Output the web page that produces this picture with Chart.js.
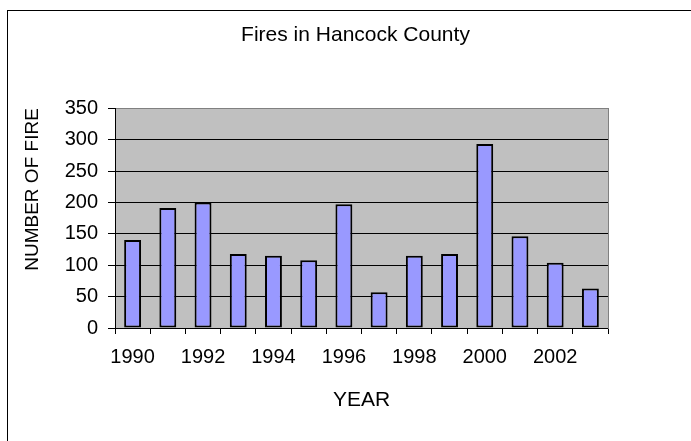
<!DOCTYPE html>
<html>
<head>
<meta charset="utf-8">
<script src="https://cdn.jsdelivr.net/npm/chart.js@4"></script>
<style>
  html, body { margin: 0; padding: 0; background: #fff; }
  #wrap { position: relative; width: 691px; height: 441px; overflow: hidden; }
  #frame { position: absolute; left: 7px; top: 10px; width: 700px; height: 450px; border-left: 1px solid #000; border-top: 1px solid #000; }
  #chart { position: absolute; left: 0; top: 0; }
</style>
</head>
<body>
<div id="wrap">
  <div id="frame"></div>
  <canvas id="chart" width="691" height="441"></canvas>
</div>
<script>
// 연도별 화재 건수
const YEARS = ["1990", "1991", "1992", "1993", "1994", "1995", "1996",
  "1997", "1998", "1999", "2000", "2001", "2002", "2003"];
const FIRES = [140, 191, 200, 118, 115, 108, 197, 57, 115, 118, 293, 146, 104, 63];
const Y_MAX = 350;
const Y_STEP = 50;

const FONT = "'Liberation Sans', Arial, sans-serif";

// 플롯 영역 회색 배경
const plotBg = {
  id: "plotBg",
  beforeDraw(chart) {
    const { ctx, chartArea: a } = chart;
    ctx.save();
    ctx.fillStyle = "#c0c0c0";
    ctx.fillRect(a.left, a.top, a.right - a.left, a.bottom - a.top);
    ctx.restore();
  },
};

Chart.defaults.font.family = FONT;
Chart.defaults.color = "#000";

new Chart(document.getElementById("chart"), {
  type: "bar",
  data: {
    labels: YEARS,
    datasets: [
      {
        label: "Fires",
        data: FIRES,
        backgroundColor: "#9999ff",
        borderColor: "#000",
        borderWidth: 2,
        borderSkipped: false,
        barPercentage: 0.48,
        categoryPercentage: 1,
      },
    ],
  },
  options: {
    responsive: false,
    animation: false,
    layout: { padding: { left: 20, right: 0, top: 0, bottom: 0 } },
    plugins: {
      legend: { display: false },
      tooltip: { enabled: false },
      title: {
        display: true,
        text: "Fires in Hancock County",
        font: { size: 21, weight: "normal" },
        color: "#000",
        padding: { top: 23, bottom: 60 },
      },
    },
    scales: {
      x: {
        grid: { offset: true, drawOnChartArea: false, tickLength: 6, tickColor: "#000" },
        border: { color: "#000" },
        ticks: {
          autoSkip: false,
          maxRotation: 0,
          font: { size: 20 },
          padding: 11,
          callback: (v, i) => (i % 2 === 0 ? YEARS[i] : ""),
        },
        title: {
          display: true,
          text: "YEAR",
          font: { size: 21 },
          padding: { top: 0, bottom: 28 },
        },
        afterFit: (s) => { s.height = 113; },
      },
      y: {
        min: 0,
        max: Y_MAX,
        ticks: { stepSize: Y_STEP, font: { size: 20 }, padding: 10 },
        grid: {
          color: (c) => (c.tick && c.tick.value === Y_MAX ? "#808080" : "#000"),
          tickColor: "#000",
          tickLength: 7,
        },
        border: { color: "#000" },
        title: {
          display: true,
          text: "NUMBER OF FIRE",
          align: "end",
          font: { size: 19 },
          padding: { top: 1, bottom: 0 },
        },
        afterFit: (s) => { s.width = 95; },
      },
      y2: {
        position: "right",
        min: 0,
        max: Y_MAX,
        grid: { drawOnChartArea: false, drawTicks: false },
        ticks: { display: false },
        border: { color: "#808080" },
        afterFit: (s) => { s.width = 83; },
      },
    },
  },
  plugins: [plotBg],
});
</script>
</body>
</html>
